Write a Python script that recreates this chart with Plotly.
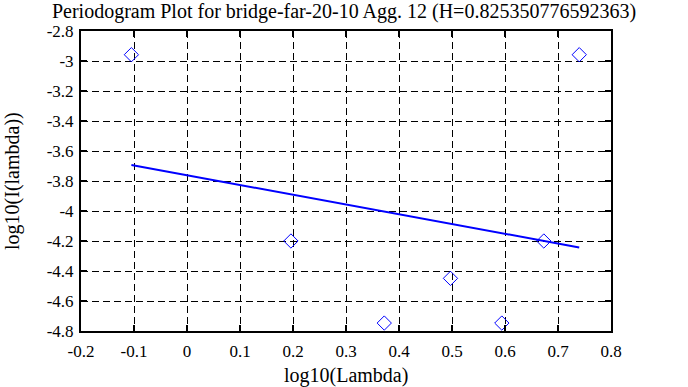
import plotly.graph_objects as go

# Data
log_lambda = [-0.1049, 0.1961, 0.3722, 0.4971, 0.5940, 0.6732, 0.7401]
log_I = [-2.958, -4.200, -4.747, -4.449, -4.747, -4.200, -2.958]
fit_x = [-0.1049, 0.7401]
fit_y = [-3.693, -4.243]

x_ticks = [-0.2, -0.1, 0, 0.1, 0.2, 0.3, 0.4, 0.5, 0.6, 0.7, 0.8]
x_tick_text = ["-0.2", "-0.1", "0", "0.1", "0.2", "0.3", "0.4", "0.5", "0.6", "0.7", "0.8"]
y_ticks = [-4.8, -4.6, -4.4, -4.2, -4.0, -3.8, -3.6, -3.4, -3.2, -3.0, -2.8]
y_tick_text = ["-4.8", "-4.6", "-4.4", "-4.2", "-4", "-3.8", "-3.6", "-3.4", "-3.2", "-3", "-2.8"]

title_text = "Periodogram Plot for bridge-far-20-10 Agg. 12 (H=0.825350776592363)"
x_title = "log10(Lambda)"
y_title = "log10(I(lambda))"

FONT = "Liberation Serif"

fig = go.Figure()
fig.add_trace(go.Scatter(
    x=log_lambda, y=log_I, mode="markers",
    marker=dict(symbol="diamond-open", size=11, color="#0000ff", line=dict(width=1, color="#0000ff")),
    showlegend=False,
))
fig.add_trace(go.Scatter(
    x=fit_x, y=fit_y, mode="lines",
    line=dict(color="#0000ff", width=2),
    showlegend=False,
))

axis_common = dict(
    showline=True, linecolor="black", linewidth=2, mirror="ticks",
    ticks="inside", ticklen=6, tickwidth=2, tickcolor="black",
    showgrid=True, gridcolor="black", gridwidth=1, griddash="7px,4px",
    zeroline=False,
    tickfont=dict(family=FONT, size=17, color="black"),
)

fig.update_layout(
    width=688, height=387,
    margin=dict(l=81, r=77, t=31, b=56),
    paper_bgcolor="white", plot_bgcolor="white",
    font=dict(family=FONT, size=17, color="black"),
    title=dict(text=title_text, x=0.5, xanchor="center", xref="container",
               y=1 - 11 / 387, yanchor="middle", yref="container",
               font=dict(family=FONT, size=20, color="black")),
    xaxis=dict(range=[-0.2, 0.8], tickvals=x_ticks, ticktext=x_tick_text, ticklabelstandoff=4, **axis_common),
    yaxis=dict(range=[-4.8, -2.8], tickvals=y_ticks, ticktext=y_tick_text, ticklabelstandoff=2, **axis_common),
    annotations=[
        dict(text=x_title, x=0.5, xref="paper", y=0, yref="paper", yshift=-31,
             xanchor="center", yanchor="top", showarrow=False,
             font=dict(family=FONT, size=20, color="black")),
        dict(text=y_title, x=0, xref="paper", xshift=-69, y=0.5, yref="paper",
             textangle=-90, xanchor="center", yanchor="middle", showarrow=False,
             font=dict(family=FONT, size=20, color="black")),
    ],
)

fig.write_html("out.html", config={"displayModeBar": False},
               post_script="document.body.style.margin='0px';document.body.style.padding='0px';")
